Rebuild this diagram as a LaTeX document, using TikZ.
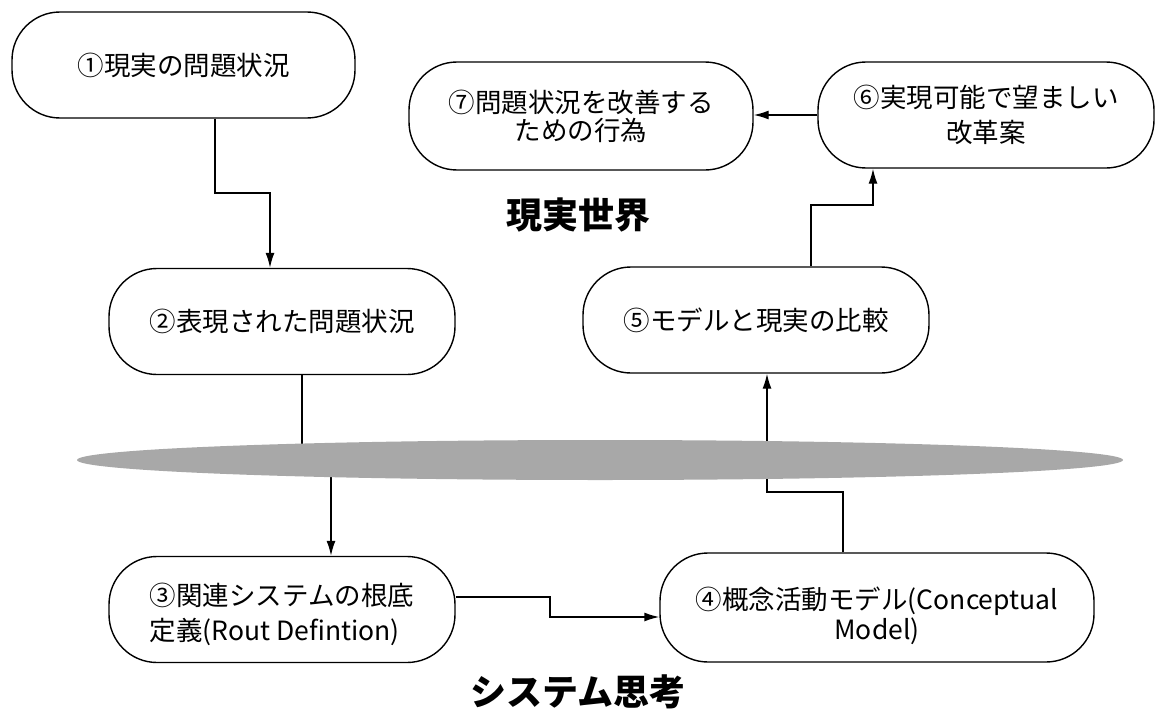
\documentclass[tikz,border=0pt]{standalone}
\usepackage{fontspec}
\setmainfont{Noto Sans CJK JP}
\usetikzlibrary{arrows.meta,shapes.geometric}
\pgfdeclarelayer{bg}
\pgfsetlayers{bg,main}
\begin{document}
\begin{tikzpicture}[x=1pt,y=-1pt,
  box/.style={draw,line width=1.4pt,fill=white,rounded corners=48pt,minimum height=106pt,inner sep=0pt,font=\fontsize{26.5}{28}\selectfont,align=center},
  boxtext/.style={inner sep=0pt,font=\fontsize{26.5}{35}\selectfont},
  conn/.style={line width=1.4pt},
  arr/.style={conn,-{Latex[length=15pt,width=9pt]}},
  title/.style={font=\fontsize{36}{40}\selectfont\bfseries}
]
\useasboundingbox (0,0) rectangle (1156,709);
% nodes
\node[box,minimum width=343pt] (n1) at (183.5,65) {①現実の問題状況};
\node[box,minimum width=344pt,minimum height=108pt] (n7) at (581,116) {⑦問題状況を改善する\\ための行為};
\node[box,minimum width=336pt,font=\fontsize{26.5}{35}\selectfont] (n6) at (986,115) {⑥実現可能で望ましい\\改革案};
\node[box,minimum width=346pt] (n2) at (282,321.5) {②表現された問題状況};
\node[box,minimum width=346pt] (n5) at (756,320) {⑤モデルと現実の比較};
\node[box,minimum width=346pt] (n3) at (282,609.5) {};
\node[boxtext,align=left] (n3text) at (282,614.5) {③関連システムの根底\\定義(Rout Defintion)};
\node[box,minimum width=434pt,minimum height=109pt] (n4) at (877,607.5) {};
\node[boxtext,align=center,font=\fontsize{26.5}{30}\selectfont] (n4text) at (877,616) {④概念活動モデル(Conceptual\\Model)};
\node[ellipse,fill=black!34,minimum width=1046pt,minimum height=40pt,inner sep=0pt] (band) at (600,460) {};
\node[title] (t1) at (578,215) {現実世界};
\node[title] (t2) at (578,692) {システム思考};
% elbow coordinates
\coordinate (e1a) at (215,193);
\coordinate (e1b) at (270,193);
\coordinate (x2) at (302,0);
\coordinate (x3) at (331,0);
\coordinate (e3a) at (550,597);
\coordinate (e3b) at (550,617);
\coordinate (e4a) at (843,492);
\coordinate (e4b) at (767,492);
\coordinate (e5a) at (811,205);
\coordinate (e5b) at (873,205);
\begin{pgfonlayer}{bg}
\draw[arr] (n1.south -| e1a) -- (e1a) -- (e1b) -- (e1b |- n2.north);
\draw[conn] (n2.south -| x2) -- (x2 |- band.center);
\draw[arr] (x3 |- band.center) -- (x3 |- n3.north);
\draw[arr] (n3.east |- e3a) -- (e3a) -- (e3b) -- (n4.west |- e3b);
\draw[arr] (n4.north -| e4a) -- (e4a) -- (e4b) -- (e4b |- n5.south);
\draw[arr] (n5.north -| e5a) -- (e5a) -- (e5b) -- (e5b |- n6.south);
\draw[arr] (n6.west) -- (n6.west -| n7.east);
\end{pgfonlayer}
\end{tikzpicture}
\end{document}
